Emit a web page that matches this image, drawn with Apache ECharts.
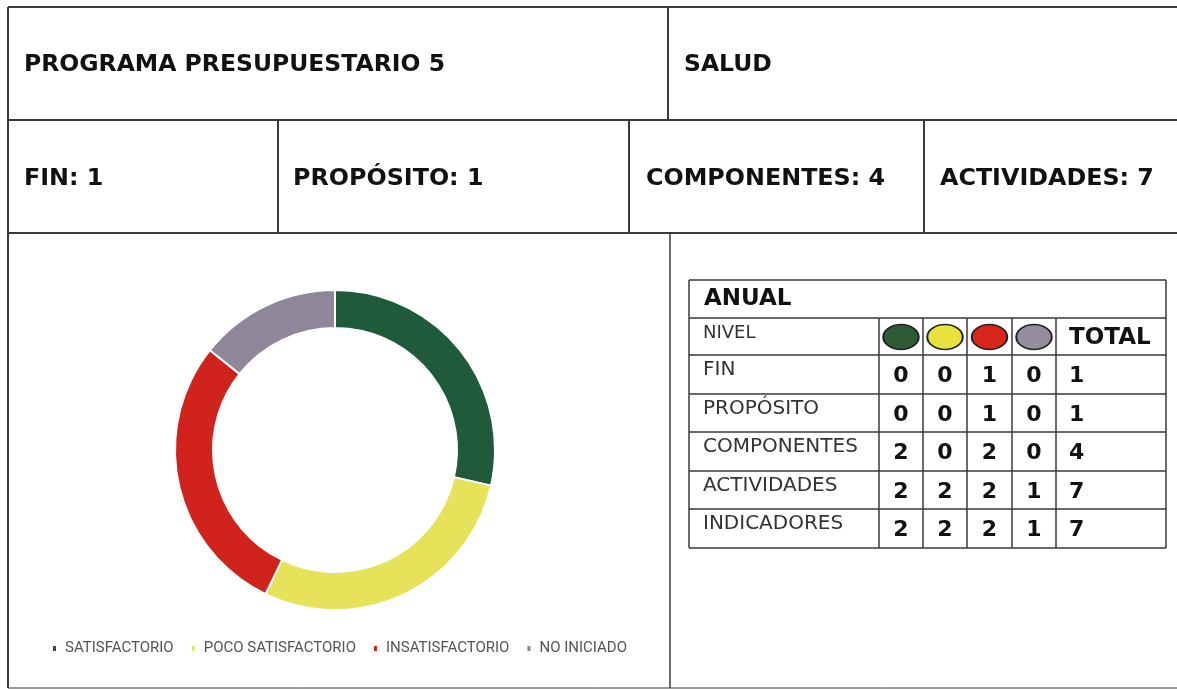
<!DOCTYPE html>
<html>
<head>
<meta charset="utf-8">
<script src="https://cdn.jsdelivr.net/npm/echarts@6/dist/echarts.min.js"></script>
<style>
  html, body { margin: 0; padding: 0; background: #fff; }
  #chart { width: 1177px; height: 690px; }
</style>
</head>
<body>
<div id="chart"></div>
<script>
// datos del programa
const programa = 'PROGRAMA PRESUPUESTARIO 5'
const sector = 'SALUD'
const levels = ['FIN', 'PROPÓSITO', 'COMPONENTES', 'ACTIVIDADES', 'INDICADORES']
const satisfactorio = [0, 0, 2, 2, 2]
const pocoSatisfactorio = [0, 0, 0, 2, 2]
const insatisfactorio = [1, 1, 2, 2, 2]
const noIniciado = [0, 0, 0, 1, 1]
const totals = [1, 1, 4, 7, 7]
const statusNames = ['SATISFACTORIO', 'POCO SATISFACTORIO', 'INSATISFACTORIO', 'NO INICIADO']
const statusColors = ['#1f5a3b', '#e6e25a', '#d0231c', '#8e8699']
const dotColors = ['#2e5a36', '#e8e33c', '#d8261c', '#958c9c']

const lineColor = '#3a3a3a'
const font = 'DejaVu Sans'

function hline(x1, x2, y, w) {
  return { type: 'line', shape: { x1: x1, y1: y, x2: x2, y2: y }, style: { stroke: lineColor, lineWidth: w || 2 } }
}
function vline(x, y1, y2, w) {
  return { type: 'line', shape: { x1: x, y1: y1, x2: x, y2: y2 }, style: { stroke: lineColor, lineWidth: w || 2 } }
}
function label(x, y, text, size, weight, align, color) {
  return {
    type: 'text', x: x, y: y,
    style: {
      text: text, fill: color || '#111', font: (weight || 'bold') + ' ' + size + 'px "' + font + '"',
      textAlign: align || 'left', textVerticalAlign: 'middle'
    }
  }
}

const graphics = []
// marco exterior y cuadricula
graphics.push(hline(8, 1177, 7))
graphics.push(hline(8, 1177, 120))
graphics.push(hline(8, 1177, 233))
graphics.push(hline(8, 1177, 688, 1))
graphics.push(vline(8, 7, 688))
graphics.push(vline(668, 7, 120))
graphics.push(vline(278, 120, 233))
graphics.push(vline(629, 120, 233))
graphics.push(vline(924, 120, 233))
graphics.push(vline(670, 233, 688, 1.5))

graphics.push(label(24, 65, programa, 23.5))
graphics.push(label(684, 65, sector, 23.5))
const headerX = [24, 293, 646, 940]
for (let i = 0; i < 4; i++) {
  graphics.push(label(headerX[i], 179, levels[i] + ': ' + totals[i], 23.8))
}

// tabla anual
const tLeft = 689, tRight = 1166
const rowY = [280, 318, 355, 394, 432, 471, 509, 548]
const colX = [879, 923, 967, 1012, 1056]
for (let r = 0; r < rowY.length; r++) graphics.push(hline(tLeft, tRight, rowY[r], 1.5))
graphics.push(vline(tLeft, rowY[0], rowY[7], 1.5))
graphics.push(vline(tRight, rowY[0], rowY[7], 1.5))
colX.forEach(function (x) { graphics.push(vline(x, rowY[1], rowY[7], 1.5)) })

graphics.push(label(704, 299, 'ANUAL', 23))
graphics.push(label(703, 333, 'NIVEL', 18, 'normal', 'left', '#333'))
graphics.push(label(1069, 338, 'TOTAL', 23))
for (let c = 0; c < 4; c++) {
  graphics.push({
    type: 'circle',
    x: (colX[c] + colX[c + 1]) / 2, y: 337, scaleX: 1.42,
    shape: { cx: 0, cy: 0, r: 12.5 },
    style: { fill: dotColors[c], stroke: '#222', lineWidth: 1.4 }
  })
}
const cols = [satisfactorio, pocoSatisfactorio, insatisfactorio, noIniciado]
levels.forEach(function (lv, r) {
  const top = rowY[r + 2]
  graphics.push(label(703, top + 15, lv, 20, 'normal', 'left', '#333'))
  cols.forEach(function (arr, c) {
    graphics.push(label((colX[c] + colX[c + 1]) / 2, top + 21, String(arr[r]), 22, 'bold', 'center'))
  })
  graphics.push(label(1069, top + 21, String(totals[r]), 22))
})

const pieData = statusNames.map(function (n, i) {
  return { name: n, value: cols[i][4], itemStyle: { color: statusColors[i] } }
})

const option = {
  backgroundColor: '#fff',
  animation: false,
  legend: {
    left: 46,
    top: 636,
    icon: 'rect',
    itemWidth: 5,
    itemHeight: 7,
    itemGap: 16,
    textStyle: { fontFamily: 'Roboto', fontSize: 15, color: '#555', padding: [0, 0, 0, 3] },
    data: statusNames
  },
  series: [{
    type: 'pie',
    center: [335, 450],
    radius: [122, 160],
    startAngle: 90,
    clockwise: true,
    label: { show: false },
    labelLine: { show: false },
    itemStyle: { borderColor: '#fff', borderWidth: 2 },
    data: pieData
  }],
  graphic: graphics
}

const myChart = echarts.init(document.getElementById('chart'))
myChart.setOption(option)
</script>
</body>
</html>
